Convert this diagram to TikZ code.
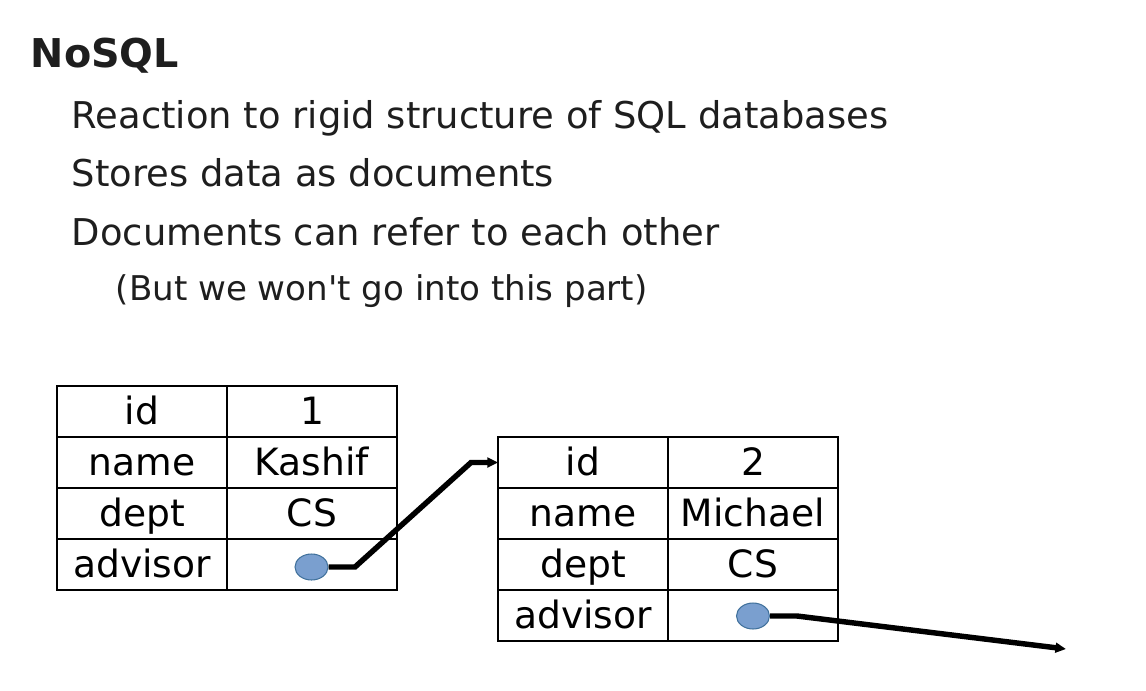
\documentclass[tikz,border=0pt]{standalone}
\usepackage{fontspec}
\setmainfont{DejaVu Sans}[Ligatures=TeXOff]
\usetikzlibrary{positioning}
\usetikzlibrary{arrows.meta}
\usetikzlibrary{shapes.geometric}
\definecolor{txtgray}{HTML}{1E1E1E}
\definecolor{dotfill}{RGB}{122,159,207}
\definecolor{dotline}{RGB}{65,113,156}

\begin{document}
\begin{tikzpicture}[x=0.02cm, y=-0.02cm,
	txt/.style={inner sep=0, anchor=base west, text=txtgray},
	cell/.style={draw, line width=1.1pt, minimum width=3.4cm, minimum height=1.02cm,
		inner sep=0, outer sep=0, font=\fontsize{21.4}{24}\selectfont,
		text height=18.9pt, text depth=3.6pt},
	dot/.style={ellipse, draw=dotline, fill=dotfill, line width=0.6pt,
		minimum width=0.66cm, minimum height=0.52cm, inner sep=0},
	link/.style={line width=3.1pt, -{Triangle[length=6pt,width=5.5pt]}}]
		\useasboundingbox (0,0) rectangle (1146,690);
		% heading and bullets
		\node[txt, font=\fontsize{22.6}{26}\selectfont\bfseries] (title) at (30.5,67) {NoSQL};
		\node[txt, font=\fontsize{21}{25}\selectfont] (p1) at (71.5,128) {Reaction to rigid structure of SQL databases};
		\node[txt, font=\fontsize{21}{25}\selectfont] (p2) at (71.5,186) {Stores data as documents};
		\node[txt, font=\fontsize{21}{25}\selectfont] (p3) at (71.5,245) {Documents can refer to each other};
		\node[txt, font=\fontsize{19.4}{22}\selectfont] (p4) at (115.5,300) {(But we won't go into this part)};
		% first document
		\node[cell] (k1) at (142,411.5) {id};
		\node[cell] (k2) [below=0pt of k1] {name};
		\node[cell] (k3) [below=0pt of k2] {dept};
		\node[cell] (k4) [below=0pt of k3] {advisor};
		\node[cell] (v1) [right=0pt of k1] {1};
		\node[cell] (v2) [right=0pt of k2] {Kashif};
		\node[cell] (v3) [right=0pt of k3] {CS};
		\node[cell] (v4) [right=0pt of k4] {};
		% second document
		\node[cell] (m1) at (583,462.5) {id};
		\node[cell] (m2) [below=0pt of m1] {name};
		\node[cell] (m3) [below=0pt of m2] {dept};
		\node[cell] (m4) [below=0pt of m3] {advisor};
		\node[cell] (w1) [right=0pt of m1] {2};
		\node[cell] (w2) [right=0pt of m2] {Michael};
		\node[cell] (w3) [right=0pt of m3] {CS};
		\node[cell] (w4) [right=0pt of m4] {};
		% pointers
		\node[dot] (d1) at (311.5,567) {};
		\node[dot] (d2) at (753,616) {};
		\coordinate (b1) at (355,567);
		\coordinate (b2) at (471,462.5);
		\coordinate (c1) at (797,616);
		\coordinate (nxt) at (1066,649);
		\draw[link] (d1.east) -- (b1) -- (b2) -- (m1.west);
		\draw[link] (d2.east) -- (c1) -- (nxt);
		\end{tikzpicture}
\end{document}
